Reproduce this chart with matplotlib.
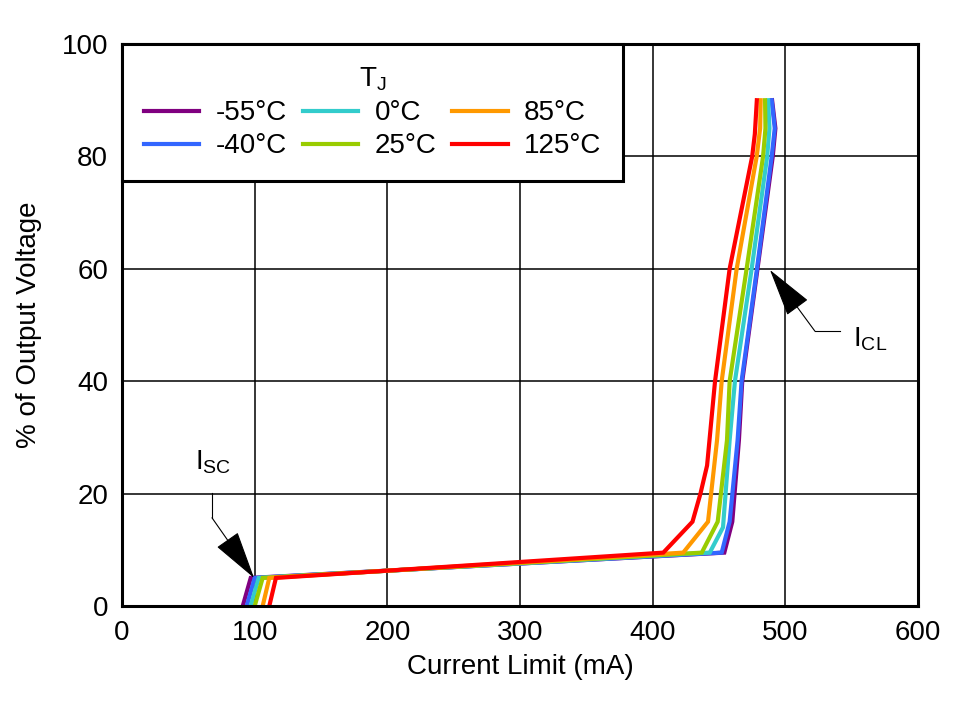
import matplotlib.pyplot as plt

plt.rcParams['font.family'] = ['Liberation Sans', 'DejaVu Sans']
plt.rcParams['font.size'] = 20

# Junction temperatures and curve colours
labels = ["-55°C", "-40°C", "0°C", "25°C", "85°C", "125°C"]
colors = ["#800080", "#3366ff", "#33cccc", "#99cc00", "#ff9900", "#ff0000"]

# Current limit (mA) vs % of output voltage
x_m55 = [91, 97, 454, 460, 465, 467.5, 479, 490.5, 492.5, 490]
y_m55 = [0, 5, 9.5, 15, 29.5, 40, 60, 80, 85, 90]
x_m40 = [94, 100, 452, 458, 464, 467, 478.6, 489.7, 492, 489.7]
y_m40 = [0, 5, 9.5, 15, 29.5, 40, 60, 80, 85, 90]
x_0 = [97, 103, 443, 453, 458, 462, 474.6, 486.3, 488, 487]
y_0 = [0, 5, 9.5, 14, 29.5, 40, 60, 80, 85, 90]
x_25 = [100, 106, 437, 449, 456, 458, 470.8, 483.2, 485, 484.7]
y_25 = [0, 5, 9.5, 15, 29.5, 40, 60, 80, 85, 90]
x_85 = [106, 111, 423, 441.7, 448.5, 452, 463.3, 478.4, 481, 481.4]
y_85 = [0, 5, 9.5, 15, 29.5, 40, 60, 80, 85, 90]
x_125 = [111, 116, 408, 430, 436, 441, 447, 458, 475, 477, 478.5]
y_125 = [0, 5, 9.5, 15, 20, 25, 40, 60, 80, 84, 90]

xs = [x_m55, x_m40, x_0, x_25, x_85, x_125]
ys = [y_m55, y_m40, y_0, y_25, y_85, y_125]

fig = plt.figure(figsize=(9.64, 7.01), dpi=100)
ax = fig.add_axes([0.1266, 0.1355, 0.8257, 0.8017])

for x, y, c, lab in zip(xs, ys, colors, labels):
    ax.plot(x, y, color=c, lw=3, label=lab, solid_joinstyle='miter')

ax.set_xlim(0, 600)
ax.set_ylim(0, 100)
ax.set_xticks(range(0, 601, 100))
ax.set_yticks(range(0, 101, 20))
ax.grid(True, color='black', lw=1.1)
ax.set_axisbelow(True)
ax.tick_params(direction='in', length=0, pad=10)
for s in ax.spines.values():
    s.set_linewidth(2.2)

ax.set_xlabel("Current Limit (mA)", labelpad=6)
ax.set_ylabel("% of Output Voltage", labelpad=14)

leg = ax.legend(loc='upper left', bbox_to_anchor=(0, 1), ncol=3, title=r"T$_\mathregular{J}$",
                fancybox=False, edgecolor='black', framealpha=1, borderaxespad=0,
                handlelength=2.0, handletextpad=0.58, columnspacing=0.58,
                labelspacing=0.25, borderpad=0.78)
leg.get_frame().set_linewidth(2.2)
leg.get_title().set_fontsize(20)

# I_SC annotation
ax.text(55, 25.6, r"I$_\mathregular{SC}$", ha='left', va='center')
ax.plot([67.8, 67.8], [20.1, 15.7], color='black', lw=0.8)
ax.annotate("", xy=(99.5, 5.0), xytext=(67.8, 15.7),
            arrowprops=dict(arrowstyle='-|>,head_length=1.57,head_width=0.42',
                            color='black', lw=0.8, shrinkA=0, shrinkB=0, mutation_scale=20))

# I_CL annotation
ax.text(551, 47.5, r"I$_\mathregular{CL}$", ha='left', va='center')
ax.plot([541.2, 522.3], [48.9, 48.9], color='black', lw=0.8)
ax.annotate("", xy=(488.4, 59.8), xytext=(522.3, 48.9),
            arrowprops=dict(arrowstyle='-|>,head_length=1.57,head_width=0.42',
                            color='black', lw=0.8, shrinkA=0, shrinkB=0, mutation_scale=20))

fig.savefig("out.png", dpi=100)
